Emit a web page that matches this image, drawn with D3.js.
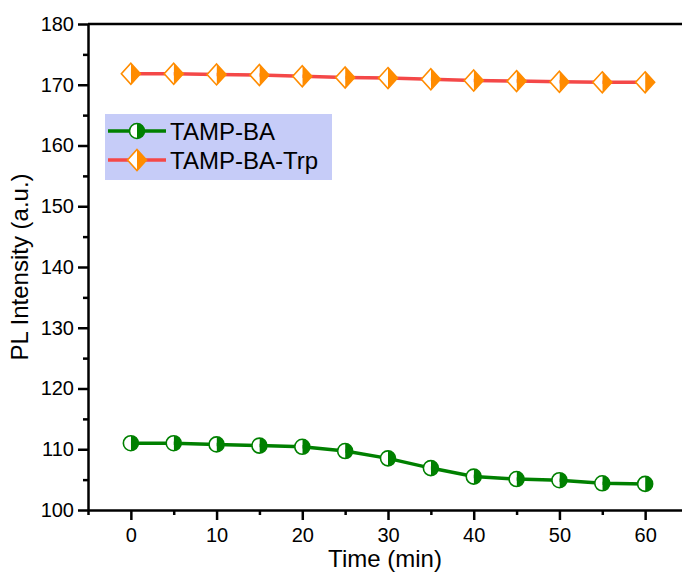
<!DOCTYPE html>
<html>
<head>
<meta charset="utf-8">
<script src="https://cdn.jsdelivr.net/npm/d3@7"></script>
<style>
  body { margin: 0; background: #fff; }
  text { font-family: "Liberation Sans", Arial, sans-serif; }
</style>
</head>
<body>
<div id="chart"></div>
<script>
// data
let times = [0, 5, 10, 15, 20, 25, 30, 35, 40, 45, 50, 55, 60];
let tampBA = [111.0, 111.0, 110.8, 110.6, 110.4, 109.7, 108.5, 106.9, 105.5, 105.1, 104.9, 104.4, 104.3];
let tampBATrp = [171.8, 171.8, 171.7, 171.6, 171.4, 171.2, 171.1, 170.9, 170.7, 170.6, 170.5, 170.4, 170.4];
let xTicks = [0, 10, 20, 30, 40, 50, 60];
let yTicks = [100, 110, 120, 130, 140, 150, 160, 170, 180];

let svgWidth = 682, svgHeight = 575;
let margin = {left: 88, top: 24, right: -6, bottom: 65};
let width = svgWidth - margin.left - margin.right;
let height = svgHeight - margin.top - margin.bottom;

let svg = d3.select('#chart')
    .append('svg')
    .attr('width', svgWidth)
    .attr('height', svgHeight);

let g = svg.append('g')
    .attr('transform', `translate(${margin.left},${margin.top})`);

let xScale = d3.scaleLinear().domain([-5, 65]).range([0, width]);
let yScale = d3.scaleLinear().domain([100, 180]).range([height, 0]);

// minor ticks
g.append('g')
    .attr('transform', `translate(0,${height})`)
    .call(d3.axisBottom(xScale).tickValues(d3.range(-5, 66, 10)).tickSize(5).tickFormat(''))
    .call(a => a.select('.domain').remove())
    .selectAll('line').attr('stroke-width', 2.5);

g.append('g')
    .call(d3.axisLeft(yScale).tickValues(d3.range(105, 180, 10)).tickSize(5).tickFormat(''))
    .call(a => a.select('.domain').remove())
    .selectAll('line').attr('stroke-width', 2.5);

// major axes
let xAxis = g.append('g')
    .attr('transform', `translate(0,${height})`)
    .call(d3.axisBottom(xScale).tickValues(xTicks).tickSize(10).tickSizeOuter(0).tickPadding(8));

let yAxis = g.append('g')
    .call(d3.axisLeft(yScale).tickValues(yTicks).tickSize(10).tickSizeOuter(0).tickPadding(4));

[xAxis, yAxis].forEach(a => {
    a.select('.domain').attr('stroke-width', 2.5);
    a.selectAll('.tick line').attr('stroke-width', 2.5);
    a.selectAll('.tick text').attr('font-size', 20).attr('fill', '#000')
        .style('font-family', '"Liberation Sans", Arial, sans-serif');
});

// top frame
g.append('line')
    .attr('x1', 0).attr('x2', width)
    .attr('y1', 0).attr('y2', 0)
    .attr('stroke', '#000').attr('stroke-width', 2.5);

// axis titles
svg.append('text')
    .attr('x', margin.left + xScale(30) - 3)
    .attr('y', 567)
    .attr('text-anchor', 'middle')
    .attr('font-size', 24)
    .text('Time (min)');

svg.append('text')
    .attr('transform', `translate(28,${margin.top + yScale(140)}) rotate(-90)`)
    .attr('text-anchor', 'middle')
    .attr('font-size', 24)
    .text('PL Intensity (a.u.)');

let line = d3.line()
    .x((d, i) => xScale(times[i]))
    .y(d => yScale(d));

// marker helpers
function circleMarker(sel, cx, cy) {
    let r = 7.5;
    sel.append('path')
        .attr('d', `M${cx},${cy - r} A${r},${r} 0 0,1 ${cx},${cy + r} Z`)
        .attr('fill', '#008000');
    sel.append('path')
        .attr('d', `M${cx},${cy - r} A${r},${r} 0 0,0 ${cx},${cy + r} Z`)
        .attr('fill', '#fff');
    sel.append('circle')
        .attr('cx', cx).attr('cy', cy).attr('r', r)
        .attr('fill', 'none').attr('stroke', '#008000').attr('stroke-width', 1.6);
}

function diamondMarker(sel, cx, cy) {
    let w = 9.5, h = 10.5;
    sel.append('path')
        .attr('d', `M${cx},${cy - h} L${cx + w},${cy} L${cx},${cy + h} Z`)
        .attr('fill', '#ff8c00');
    sel.append('path')
        .attr('d', `M${cx},${cy - h} L${cx - w},${cy} L${cx},${cy + h} Z`)
        .attr('fill', '#fff');
    sel.append('path')
        .attr('d', `M${cx},${cy - h} L${cx + w},${cy} L${cx},${cy + h} L${cx - w},${cy} Z`)
        .attr('fill', 'none').attr('stroke', '#ff8c00').attr('stroke-width', 1.6);
}

// series
g.append('path')
    .datum(tampBA)
    .attr('d', line)
    .attr('fill', 'none')
    .attr('stroke', '#008000')
    .attr('stroke-width', 3.5);

g.append('path')
    .datum(tampBATrp)
    .attr('d', line)
    .attr('fill', 'none')
    .attr('stroke', '#f44848')
    .attr('stroke-width', 3.5);

let gm = g.append('g');
tampBA.forEach((d, i) => circleMarker(gm, xScale(times[i]), yScale(d)));
tampBATrp.forEach((d, i) => diamondMarker(gm, xScale(times[i]), yScale(d)));

// legend
let legend = svg.append('g').attr('transform', 'translate(105,114)');
legend.append('rect')
    .attr('width', 227).attr('height', 66)
    .attr('fill', '#c6ccf8');

let entries = [
    {name: 'TAMP-BA', color: '#008000', marker: circleMarker},
    {name: 'TAMP-BA-Trp', color: '#f44848', marker: diamondMarker}
];
entries.forEach((e, i) => {
    let y = 17 + i * 29;
    legend.append('line')
        .attr('x1', 3).attr('x2', 61)
        .attr('y1', y).attr('y2', y)
        .attr('stroke', e.color).attr('stroke-width', 3.5);
    e.marker(legend, 32, y);
    legend.append('text')
        .attr('x', 65).attr('y', y + 9)
        .attr('font-size', 24)
        .text(e.name);
});
</script>
</body>
</html>
